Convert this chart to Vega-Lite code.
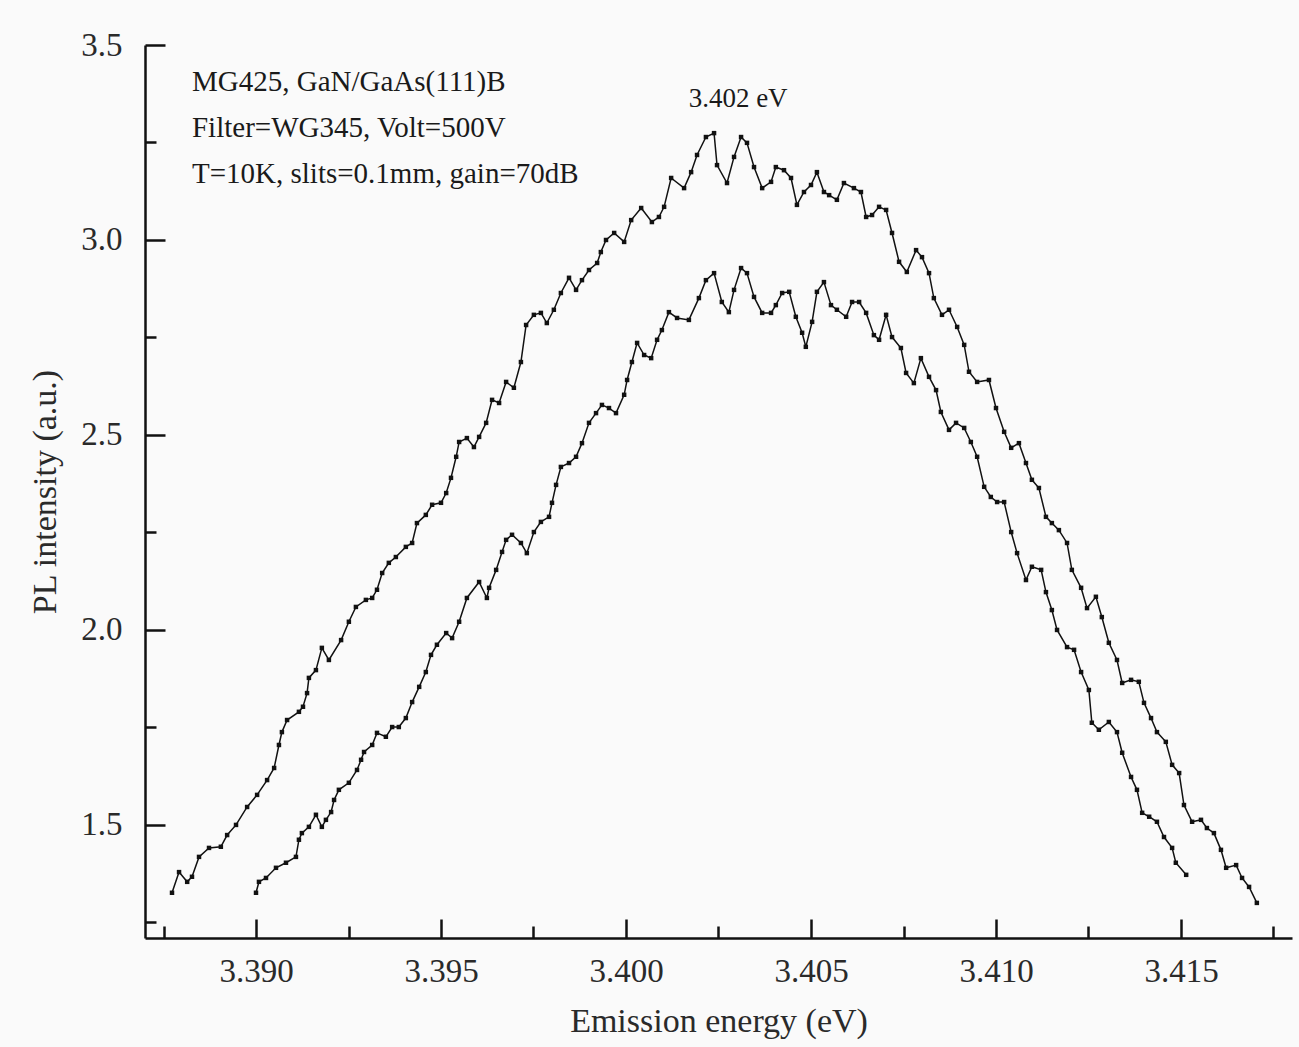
{
  "$schema": "https://vega.github.io/schema/vega-lite/v6.json",
  "width": 1147,
  "height": 893,
  "autosize": {"type": "none"},
  "padding": {"left": 145, "top": 45, "right": 7, "bottom": 109},
  "background": "#fafafa",
  "config": {
    "view": {"stroke": null},
    "font": "Liberation Serif",
    "axis": {
      "grid": false,
      "domainColor": "#111",
      "domainWidth": 2.5,
      "tickColor": "#111",
      "tickWidth": 2.5,
      "labelFont": "Liberation Serif",
      "labelFontSize": 33,
      "labelColor": "#2a2a2a",
      "titleFont": "Liberation Serif",
      "titleFontSize": 34,
      "titleFontWeight": "normal",
      "titleColor": "#2a2a2a"
    }
  },
  "datasets": {
    "pl": [
      {"series": "A", "energy": 3.38773, "intensity": 1.326},
      {"series": "A", "energy": 3.38792, "intensity": 1.379},
      {"series": "A", "energy": 3.38814, "intensity": 1.354},
      {"series": "A", "energy": 3.38827, "intensity": 1.367},
      {"series": "A", "energy": 3.38846, "intensity": 1.418},
      {"series": "A", "energy": 3.38873, "intensity": 1.441},
      {"series": "A", "energy": 3.38905, "intensity": 1.444},
      {"series": "A", "energy": 3.38922, "intensity": 1.474},
      {"series": "A", "energy": 3.38946, "intensity": 1.500},
      {"series": "A", "energy": 3.38976, "intensity": 1.546},
      {"series": "A", "energy": 3.39003, "intensity": 1.577},
      {"series": "A", "energy": 3.39030, "intensity": 1.615},
      {"series": "A", "energy": 3.39049, "intensity": 1.646},
      {"series": "A", "energy": 3.39062, "intensity": 1.705},
      {"series": "A", "energy": 3.39070, "intensity": 1.738},
      {"series": "A", "energy": 3.39084, "intensity": 1.769},
      {"series": "A", "energy": 3.39116, "intensity": 1.790},
      {"series": "A", "energy": 3.39127, "intensity": 1.803},
      {"series": "A", "energy": 3.39138, "intensity": 1.838},
      {"series": "A", "energy": 3.39143, "intensity": 1.877},
      {"series": "A", "energy": 3.39162, "intensity": 1.897},
      {"series": "A", "energy": 3.39178, "intensity": 1.954},
      {"series": "A", "energy": 3.39197, "intensity": 1.923},
      {"series": "A", "energy": 3.39230, "intensity": 1.974},
      {"series": "A", "energy": 3.39251, "intensity": 2.021},
      {"series": "A", "energy": 3.39270, "intensity": 2.059},
      {"series": "A", "energy": 3.39297, "intensity": 2.077},
      {"series": "A", "energy": 3.39314, "intensity": 2.082},
      {"series": "A", "energy": 3.39327, "intensity": 2.103},
      {"series": "A", "energy": 3.39341, "intensity": 2.146},
      {"series": "A", "energy": 3.39359, "intensity": 2.172},
      {"series": "A", "energy": 3.39378, "intensity": 2.187},
      {"series": "A", "energy": 3.39405, "intensity": 2.213},
      {"series": "A", "energy": 3.39422, "intensity": 2.223},
      {"series": "A", "energy": 3.39435, "intensity": 2.274},
      {"series": "A", "energy": 3.39459, "intensity": 2.295},
      {"series": "A", "energy": 3.39476, "intensity": 2.321},
      {"series": "A", "energy": 3.39500, "intensity": 2.326},
      {"series": "A", "energy": 3.39514, "intensity": 2.351},
      {"series": "A", "energy": 3.39527, "intensity": 2.390},
      {"series": "A", "energy": 3.39541, "intensity": 2.444},
      {"series": "A", "energy": 3.39549, "intensity": 2.482},
      {"series": "A", "energy": 3.39570, "intensity": 2.492},
      {"series": "A", "energy": 3.39589, "intensity": 2.469},
      {"series": "A", "energy": 3.39603, "intensity": 2.495},
      {"series": "A", "energy": 3.39622, "intensity": 2.531},
      {"series": "A", "energy": 3.39638, "intensity": 2.590},
      {"series": "A", "energy": 3.39657, "intensity": 2.582},
      {"series": "A", "energy": 3.39676, "intensity": 2.636},
      {"series": "A", "energy": 3.39697, "intensity": 2.621},
      {"series": "A", "energy": 3.39716, "intensity": 2.687},
      {"series": "A", "energy": 3.39730, "intensity": 2.782},
      {"series": "A", "energy": 3.39751, "intensity": 2.808},
      {"series": "A", "energy": 3.39770, "intensity": 2.813},
      {"series": "A", "energy": 3.39786, "intensity": 2.787},
      {"series": "A", "energy": 3.39805, "intensity": 2.821},
      {"series": "A", "energy": 3.39824, "intensity": 2.864},
      {"series": "A", "energy": 3.39846, "intensity": 2.903},
      {"series": "A", "energy": 3.39865, "intensity": 2.872},
      {"series": "A", "energy": 3.39881, "intensity": 2.897},
      {"series": "A", "energy": 3.39900, "intensity": 2.923},
      {"series": "A", "energy": 3.39922, "intensity": 2.941},
      {"series": "A", "energy": 3.39932, "intensity": 2.969},
      {"series": "A", "energy": 3.39946, "intensity": 3.000},
      {"series": "A", "energy": 3.39968, "intensity": 3.018},
      {"series": "A", "energy": 3.39995, "intensity": 2.995},
      {"series": "A", "energy": 3.40014, "intensity": 3.051},
      {"series": "A", "energy": 3.40041, "intensity": 3.082},
      {"series": "A", "energy": 3.40070, "intensity": 3.046},
      {"series": "A", "energy": 3.40089, "intensity": 3.059},
      {"series": "A", "energy": 3.40103, "intensity": 3.085},
      {"series": "A", "energy": 3.40122, "intensity": 3.159},
      {"series": "A", "energy": 3.40157, "intensity": 3.133},
      {"series": "A", "energy": 3.40176, "intensity": 3.174},
      {"series": "A", "energy": 3.40192, "intensity": 3.218},
      {"series": "A", "energy": 3.40216, "intensity": 3.264},
      {"series": "A", "energy": 3.40238, "intensity": 3.274},
      {"series": "A", "energy": 3.40246, "intensity": 3.192},
      {"series": "A", "energy": 3.40273, "intensity": 3.146},
      {"series": "A", "energy": 3.40292, "intensity": 3.213},
      {"series": "A", "energy": 3.40311, "intensity": 3.264},
      {"series": "A", "energy": 3.40327, "intensity": 3.249},
      {"series": "A", "energy": 3.40346, "intensity": 3.187},
      {"series": "A", "energy": 3.40368, "intensity": 3.133},
      {"series": "A", "energy": 3.40392, "intensity": 3.149},
      {"series": "A", "energy": 3.40405, "intensity": 3.187},
      {"series": "A", "energy": 3.40427, "intensity": 3.179},
      {"series": "A", "energy": 3.40446, "intensity": 3.159},
      {"series": "A", "energy": 3.40462, "intensity": 3.090},
      {"series": "A", "energy": 3.40481, "intensity": 3.123},
      {"series": "A", "energy": 3.40500, "intensity": 3.141},
      {"series": "A", "energy": 3.40516, "intensity": 3.174},
      {"series": "A", "energy": 3.40535, "intensity": 3.123},
      {"series": "A", "energy": 3.40549, "intensity": 3.115},
      {"series": "A", "energy": 3.40570, "intensity": 3.103},
      {"series": "A", "energy": 3.40589, "intensity": 3.146},
      {"series": "A", "energy": 3.40616, "intensity": 3.133},
      {"series": "A", "energy": 3.40635, "intensity": 3.123},
      {"series": "A", "energy": 3.40649, "intensity": 3.059},
      {"series": "A", "energy": 3.40665, "intensity": 3.064},
      {"series": "A", "energy": 3.40684, "intensity": 3.085},
      {"series": "A", "energy": 3.40703, "intensity": 3.077},
      {"series": "A", "energy": 3.40719, "intensity": 3.018},
      {"series": "A", "energy": 3.40738, "intensity": 2.944},
      {"series": "A", "energy": 3.40759, "intensity": 2.918},
      {"series": "A", "energy": 3.40784, "intensity": 2.974},
      {"series": "A", "energy": 3.40800, "intensity": 2.956},
      {"series": "A", "energy": 3.40819, "intensity": 2.915},
      {"series": "A", "energy": 3.40832, "intensity": 2.851},
      {"series": "A", "energy": 3.40854, "intensity": 2.808},
      {"series": "A", "energy": 3.40873, "intensity": 2.821},
      {"series": "A", "energy": 3.40895, "intensity": 2.777},
      {"series": "A", "energy": 3.40914, "intensity": 2.731},
      {"series": "A", "energy": 3.40927, "intensity": 2.662},
      {"series": "A", "energy": 3.40949, "intensity": 2.636},
      {"series": "A", "energy": 3.40981, "intensity": 2.641},
      {"series": "A", "energy": 3.41000, "intensity": 2.569},
      {"series": "A", "energy": 3.41022, "intensity": 2.508},
      {"series": "A", "energy": 3.41041, "intensity": 2.467},
      {"series": "A", "energy": 3.41062, "intensity": 2.479},
      {"series": "A", "energy": 3.41081, "intensity": 2.428},
      {"series": "A", "energy": 3.41097, "intensity": 2.385},
      {"series": "A", "energy": 3.41116, "intensity": 2.364},
      {"series": "A", "energy": 3.41135, "intensity": 2.290},
      {"series": "A", "energy": 3.41151, "intensity": 2.274},
      {"series": "A", "energy": 3.41170, "intensity": 2.256},
      {"series": "A", "energy": 3.41192, "intensity": 2.223},
      {"series": "A", "energy": 3.41205, "intensity": 2.154},
      {"series": "A", "energy": 3.41230, "intensity": 2.108},
      {"series": "A", "energy": 3.41246, "intensity": 2.056},
      {"series": "A", "energy": 3.41270, "intensity": 2.085},
      {"series": "A", "energy": 3.41286, "intensity": 2.033},
      {"series": "A", "energy": 3.41305, "intensity": 1.967},
      {"series": "A", "energy": 3.41327, "intensity": 1.923},
      {"series": "A", "energy": 3.41341, "intensity": 1.864},
      {"series": "A", "energy": 3.41365, "intensity": 1.872},
      {"series": "A", "energy": 3.41386, "intensity": 1.867},
      {"series": "A", "energy": 3.41400, "intensity": 1.813},
      {"series": "A", "energy": 3.41419, "intensity": 1.774},
      {"series": "A", "energy": 3.41435, "intensity": 1.738},
      {"series": "A", "energy": 3.41459, "intensity": 1.713},
      {"series": "A", "energy": 3.41476, "intensity": 1.654},
      {"series": "A", "energy": 3.41495, "intensity": 1.633},
      {"series": "A", "energy": 3.41508, "intensity": 1.551},
      {"series": "A", "energy": 3.41530, "intensity": 1.508},
      {"series": "A", "energy": 3.41554, "intensity": 1.513},
      {"series": "A", "energy": 3.41570, "intensity": 1.492},
      {"series": "A", "energy": 3.41589, "intensity": 1.479},
      {"series": "A", "energy": 3.41608, "intensity": 1.436},
      {"series": "A", "energy": 3.41622, "intensity": 1.390},
      {"series": "A", "energy": 3.41649, "intensity": 1.397},
      {"series": "A", "energy": 3.41665, "intensity": 1.364},
      {"series": "A", "energy": 3.41684, "intensity": 1.341},
      {"series": "A", "energy": 3.41705, "intensity": 1.300},
      {"series": "B", "energy": 3.39000, "intensity": 1.326},
      {"series": "B", "energy": 3.39008, "intensity": 1.354},
      {"series": "B", "energy": 3.39027, "intensity": 1.364},
      {"series": "B", "energy": 3.39054, "intensity": 1.390},
      {"series": "B", "energy": 3.39081, "intensity": 1.403},
      {"series": "B", "energy": 3.39108, "intensity": 1.418},
      {"series": "B", "energy": 3.39116, "intensity": 1.462},
      {"series": "B", "energy": 3.39124, "intensity": 1.479},
      {"series": "B", "energy": 3.39143, "intensity": 1.495},
      {"series": "B", "energy": 3.39162, "intensity": 1.526},
      {"series": "B", "energy": 3.39178, "intensity": 1.495},
      {"series": "B", "energy": 3.39189, "intensity": 1.513},
      {"series": "B", "energy": 3.39203, "intensity": 1.533},
      {"series": "B", "energy": 3.39211, "intensity": 1.564},
      {"series": "B", "energy": 3.39224, "intensity": 1.590},
      {"series": "B", "energy": 3.39251, "intensity": 1.608},
      {"series": "B", "energy": 3.39273, "intensity": 1.641},
      {"series": "B", "energy": 3.39284, "intensity": 1.667},
      {"series": "B", "energy": 3.39292, "intensity": 1.687},
      {"series": "B", "energy": 3.39314, "intensity": 1.705},
      {"series": "B", "energy": 3.39327, "intensity": 1.736},
      {"series": "B", "energy": 3.39351, "intensity": 1.726},
      {"series": "B", "energy": 3.39368, "intensity": 1.751},
      {"series": "B", "energy": 3.39386, "intensity": 1.751},
      {"series": "B", "energy": 3.39405, "intensity": 1.774},
      {"series": "B", "energy": 3.39422, "intensity": 1.815},
      {"series": "B", "energy": 3.39441, "intensity": 1.854},
      {"series": "B", "energy": 3.39459, "intensity": 1.892},
      {"series": "B", "energy": 3.39473, "intensity": 1.936},
      {"series": "B", "energy": 3.39489, "intensity": 1.962},
      {"series": "B", "energy": 3.39514, "intensity": 1.992},
      {"series": "B", "energy": 3.39530, "intensity": 1.979},
      {"series": "B", "energy": 3.39549, "intensity": 2.021},
      {"series": "B", "energy": 3.39570, "intensity": 2.082},
      {"series": "B", "energy": 3.39603, "intensity": 2.123},
      {"series": "B", "energy": 3.39624, "intensity": 2.082},
      {"series": "B", "energy": 3.39630, "intensity": 2.108},
      {"series": "B", "energy": 3.39649, "intensity": 2.154},
      {"series": "B", "energy": 3.39665, "intensity": 2.200},
      {"series": "B", "energy": 3.39676, "intensity": 2.231},
      {"series": "B", "energy": 3.39692, "intensity": 2.244},
      {"series": "B", "energy": 3.39716, "intensity": 2.223},
      {"series": "B", "energy": 3.39732, "intensity": 2.197},
      {"series": "B", "energy": 3.39751, "intensity": 2.251},
      {"series": "B", "energy": 3.39770, "intensity": 2.277},
      {"series": "B", "energy": 3.39792, "intensity": 2.290},
      {"series": "B", "energy": 3.39800, "intensity": 2.326},
      {"series": "B", "energy": 3.39811, "intensity": 2.372},
      {"series": "B", "energy": 3.39824, "intensity": 2.418},
      {"series": "B", "energy": 3.39846, "intensity": 2.428},
      {"series": "B", "energy": 3.39865, "intensity": 2.444},
      {"series": "B", "energy": 3.39881, "intensity": 2.479},
      {"series": "B", "energy": 3.39900, "intensity": 2.531},
      {"series": "B", "energy": 3.39919, "intensity": 2.556},
      {"series": "B", "energy": 3.39935, "intensity": 2.577},
      {"series": "B", "energy": 3.39954, "intensity": 2.569},
      {"series": "B", "energy": 3.39973, "intensity": 2.556},
      {"series": "B", "energy": 3.39995, "intensity": 2.603},
      {"series": "B", "energy": 3.40003, "intensity": 2.641},
      {"series": "B", "energy": 3.40016, "intensity": 2.687},
      {"series": "B", "energy": 3.40030, "intensity": 2.736},
      {"series": "B", "energy": 3.40049, "intensity": 2.705},
      {"series": "B", "energy": 3.40068, "intensity": 2.697},
      {"series": "B", "energy": 3.40084, "intensity": 2.744},
      {"series": "B", "energy": 3.40097, "intensity": 2.769},
      {"series": "B", "energy": 3.40116, "intensity": 2.815},
      {"series": "B", "energy": 3.40138, "intensity": 2.800},
      {"series": "B", "energy": 3.40170, "intensity": 2.795},
      {"series": "B", "energy": 3.40197, "intensity": 2.851},
      {"series": "B", "energy": 3.40216, "intensity": 2.897},
      {"series": "B", "energy": 3.40238, "intensity": 2.915},
      {"series": "B", "energy": 3.40259, "intensity": 2.841},
      {"series": "B", "energy": 3.40278, "intensity": 2.815},
      {"series": "B", "energy": 3.40292, "intensity": 2.872},
      {"series": "B", "energy": 3.40311, "intensity": 2.928},
      {"series": "B", "energy": 3.40327, "intensity": 2.915},
      {"series": "B", "energy": 3.40346, "intensity": 2.854},
      {"series": "B", "energy": 3.40368, "intensity": 2.813},
      {"series": "B", "energy": 3.40392, "intensity": 2.813},
      {"series": "B", "energy": 3.40405, "intensity": 2.833},
      {"series": "B", "energy": 3.40422, "intensity": 2.864},
      {"series": "B", "energy": 3.40441, "intensity": 2.867},
      {"series": "B", "energy": 3.40459, "intensity": 2.803},
      {"series": "B", "energy": 3.40476, "intensity": 2.762},
      {"series": "B", "energy": 3.40486, "intensity": 2.726},
      {"series": "B", "energy": 3.40503, "intensity": 2.790},
      {"series": "B", "energy": 3.40516, "intensity": 2.867},
      {"series": "B", "energy": 3.40535, "intensity": 2.892},
      {"series": "B", "energy": 3.40554, "intensity": 2.833},
      {"series": "B", "energy": 3.40570, "intensity": 2.821},
      {"series": "B", "energy": 3.40595, "intensity": 2.803},
      {"series": "B", "energy": 3.40611, "intensity": 2.841},
      {"series": "B", "energy": 3.40630, "intensity": 2.841},
      {"series": "B", "energy": 3.40649, "intensity": 2.813},
      {"series": "B", "energy": 3.40670, "intensity": 2.756},
      {"series": "B", "energy": 3.40684, "intensity": 2.744},
      {"series": "B", "energy": 3.40703, "intensity": 2.808},
      {"series": "B", "energy": 3.40719, "intensity": 2.751},
      {"series": "B", "energy": 3.40743, "intensity": 2.723},
      {"series": "B", "energy": 3.40757, "intensity": 2.659},
      {"series": "B", "energy": 3.40778, "intensity": 2.633},
      {"series": "B", "energy": 3.40797, "intensity": 2.697},
      {"series": "B", "energy": 3.40819, "intensity": 2.649},
      {"series": "B", "energy": 3.40838, "intensity": 2.615},
      {"series": "B", "energy": 3.40851, "intensity": 2.559},
      {"series": "B", "energy": 3.40873, "intensity": 2.513},
      {"series": "B", "energy": 3.40892, "intensity": 2.531},
      {"series": "B", "energy": 3.40914, "intensity": 2.518},
      {"series": "B", "energy": 3.40932, "intensity": 2.482},
      {"series": "B", "energy": 3.40949, "intensity": 2.444},
      {"series": "B", "energy": 3.40968, "intensity": 2.367},
      {"series": "B", "energy": 3.40986, "intensity": 2.341},
      {"series": "B", "energy": 3.41003, "intensity": 2.328},
      {"series": "B", "energy": 3.41022, "intensity": 2.328},
      {"series": "B", "energy": 3.41041, "intensity": 2.251},
      {"series": "B", "energy": 3.41057, "intensity": 2.197},
      {"series": "B", "energy": 3.41081, "intensity": 2.128},
      {"series": "B", "energy": 3.41097, "intensity": 2.162},
      {"series": "B", "energy": 3.41122, "intensity": 2.154},
      {"series": "B", "energy": 3.41135, "intensity": 2.097},
      {"series": "B", "energy": 3.41151, "intensity": 2.051},
      {"series": "B", "energy": 3.41165, "intensity": 2.000},
      {"series": "B", "energy": 3.41192, "intensity": 1.956},
      {"series": "B", "energy": 3.41211, "intensity": 1.949},
      {"series": "B", "energy": 3.41230, "intensity": 1.892},
      {"series": "B", "energy": 3.41251, "intensity": 1.846},
      {"series": "B", "energy": 3.41259, "intensity": 1.762},
      {"series": "B", "energy": 3.41278, "intensity": 1.744},
      {"series": "B", "energy": 3.41305, "intensity": 1.764},
      {"series": "B", "energy": 3.41327, "intensity": 1.738},
      {"series": "B", "energy": 3.41341, "intensity": 1.685},
      {"series": "B", "energy": 3.41365, "intensity": 1.623},
      {"series": "B", "energy": 3.41381, "intensity": 1.590},
      {"series": "B", "energy": 3.41395, "intensity": 1.531},
      {"series": "B", "energy": 3.41414, "intensity": 1.521},
      {"series": "B", "energy": 3.41435, "intensity": 1.508},
      {"series": "B", "energy": 3.41454, "intensity": 1.469},
      {"series": "B", "energy": 3.41476, "intensity": 1.441},
      {"series": "B", "energy": 3.41486, "intensity": 1.403},
      {"series": "B", "energy": 3.41514, "intensity": 1.372}
    ],
    "notes": [
      {"energy": 3.38827, "intensity": 3.382, "label": "MG425, GaN/GaAs(111)B"},
      {"energy": 3.38827, "intensity": 3.264, "label": "Filter=WG345, Volt=500V"},
      {"energy": 3.38827, "intensity": 3.146, "label": "T=10K, slits=0.1mm, gain=70dB"}
    ],
    "peak": [
      {"energy": 3.40303, "intensity": 3.341, "label": "3.402 eV"}
    ]
  },
  "layer": [
    {
      "data": {"name": "pl"},
      "mark": {"type": "line", "color": "#111", "strokeWidth": 1.5},
      "encoding": {
        "x": {
          "field": "energy", "type": "quantitative",
          "scale": {"domain": [3.387, 3.418], "zero": false, "nice": false},
          "axis": {
            "orient": "bottom",
            "values": [3.39, 3.395, 3.4, 3.405, 3.41, 3.415],
            "format": ".3f",
            "tickSize": -19,
            "labelPadding": 36,
            "title": "Emission energy (eV)",
            "titlePadding": 16
          }
        },
        "y": {
          "field": "intensity", "type": "quantitative",
          "scale": {"domain": [1.21, 3.5], "zero": false, "nice": false},
          "axis": {
            "orient": "left",
            "values": [1.5, 2.0, 2.5, 3.0, 3.5],
            "format": ".1f",
            "tickSize": -20,
            "labelPadding": 43,
            "title": "PL intensity (a.u.)",
            "titlePadding": 18
          }
        },
        "detail": {"field": "series"}
      }
    },
    {
      "data": {"name": "pl"},
      "mark": {"type": "point", "shape": "square", "filled": true, "color": "#111", "size": 20, "opacity": 1},
      "encoding": {
        "x": {"field": "energy", "type": "quantitative", "axis": null},
        "y": {"field": "intensity", "type": "quantitative", "axis": null},
        "detail": {"field": "series"}
      }
    },
    {
      "data": {"name": "notes"},
      "mark": {"type": "text", "align": "left", "baseline": "alphabetic", "font": "Liberation Serif", "fontSize": 29, "color": "#1a1a1a"},
      "encoding": {
        "x": {"field": "energy", "type": "quantitative", "axis": null},
        "y": {"field": "intensity", "type": "quantitative", "axis": null},
        "text": {"field": "label"}
      }
    },
    {
      "data": {"name": "peak"},
      "mark": {"type": "text", "align": "center", "baseline": "alphabetic", "font": "Liberation Serif", "fontSize": 27, "color": "#1a1a1a"},
      "encoding": {
        "x": {"field": "energy", "type": "quantitative", "axis": null},
        "y": {"field": "intensity", "type": "quantitative", "axis": null},
        "text": {"field": "label"}
      }
    },
    {
      "data": {"name": "pl"},
      "mark": {"type": "point", "opacity": 0},
      "encoding": {
        "x": {
          "field": "energy", "type": "quantitative",
          "axis": {
            "orient": "bottom",
            "values": [3.3875, 3.3925, 3.3975, 3.4025, 3.4075, 3.4125, 3.4175],
            "labels": false,
            "domain": false,
            "tickSize": -12,
            "title": null
          }
        },
        "y": {
          "field": "intensity", "type": "quantitative",
          "axis": {
            "orient": "left",
            "values": [1.25, 1.75, 2.25, 2.75, 3.25],
            "labels": false,
            "domain": false,
            "tickSize": -11,
            "title": null
          }
        }
      }
    }
  ],
  "resolve": {"axis": {"x": "independent", "y": "independent"}}
}
